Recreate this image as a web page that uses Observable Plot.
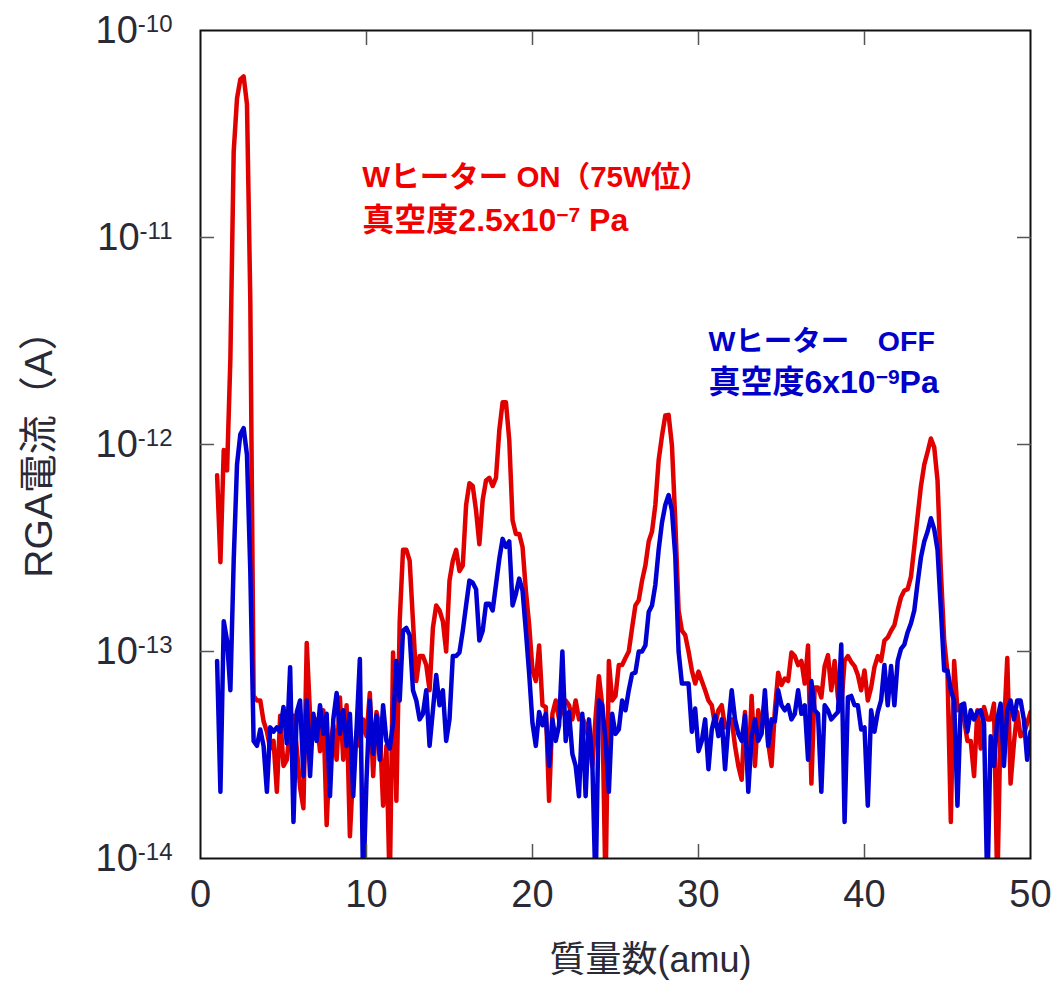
<!DOCTYPE html>
<html><head><meta charset="utf-8">
<script src="https://cdn.jsdelivr.net/npm/d3@7"></script>
<script src="https://cdn.jsdelivr.net/npm/@observablehq/plot@0.6"></script>
<style>html,body{margin:0;padding:0;background:#fff;}</style>
</head><body><div id="chart"></div>
<script>
// mass scan grid (amu)
const massAmu = [
 1.0,1.2,1.4,1.6,1.8,2.0,2.2,2.4,2.6,2.8,
 3.0,3.2,3.4,3.6,3.8,4.0,4.2,4.4,4.6,4.8,
 5.0,5.2,5.4,5.6,5.8,6.0,6.2,6.4,6.6,6.8,
 7.0,7.2,7.4,7.6,7.8,8.0,8.2,8.4,8.6,8.8,
 9.0,9.2,9.4,9.6,9.8,10.0,10.2,10.4,10.6,10.8,
 11.0,11.2,11.4,11.6,11.8,12.0,12.2,12.4,12.6,12.8,
 13.0,13.2,13.4,13.6,13.8,14.0,14.2,14.4,14.6,14.8,
 15.0,15.2,15.4,15.6,15.8,16.0,16.2,16.4,16.6,16.8,
 17.0,17.2,17.4,17.6,17.8,18.0,18.2,18.4,18.6,18.8,
 19.0,19.2,19.4,19.6,19.8,20.0,20.2,20.4,20.6,20.8,
 21.0,21.2,21.4,21.6,21.8,22.0,22.2,22.4,22.6,22.8,
 23.0,23.2,23.4,23.6,23.8,24.0,24.2,24.4,24.6,24.8,
 25.0,25.2,25.4,25.6,25.8,26.0,26.2,26.4,26.6,26.8,
 27.0,27.2,27.4,27.6,27.8,28.0,28.2,28.4,28.6,28.8,
 29.0,29.2,29.4,29.6,29.8,30.0,30.2,30.4,30.6,30.8,
 31.0,31.2,31.4,31.6,31.8,32.0,32.2,32.4,32.6,32.8,
 33.0,33.2,33.4,33.6,33.8,34.0,34.2,34.4,34.6,34.8,
 35.0,35.2,35.4,35.6,35.8,36.0,36.2,36.4,36.6,36.8,
 37.0,37.2,37.4,37.6,37.8,38.0,38.2,38.4,38.6,38.8,
 39.0,39.2,39.4,39.6,39.8,40.0,40.2,40.4,40.6,40.8,
 41.0,41.2,41.4,41.6,41.8,42.0,42.2,42.4,42.6,42.8,
 43.0,43.2,43.4,43.6,43.8,44.0,44.2,44.4,44.6,44.8,
 45.0,45.2,45.4,45.6,45.8,46.0,46.2,46.4,46.6,46.8,
 47.0,47.2,47.4,47.6,47.8,48.0,48.2,48.4,48.6,48.8,
 49.0,49.2,49.4,49.6,49.8,50.0
];
// RGA current (A), W heater ON (red)
const currentHeaterOn = [
 7.1e-13,2.7e-13,9.4e-13,7.5e-13,2.6e-12,2.6e-11,4.7e-11,5.8e-11,6.0e-11,4.4e-11,
 5.0e-12,6.1e-14,5.8e-14,5.8e-14,4.6e-14,4.1e-14,3.4e-14,3.7e-14,2.1e-14,4.9e-14,
 2.8e-14,3.0e-14,4.3e-14,4.9e-14,3.4e-14,2.2e-14,1.75e-14,1.1e-13,4.9e-14,4.0e-14,
 4.7e-14,3.3e-14,5.2e-14,1.45e-14,3.5e-14,4.4e-14,3.0e-14,6.0e-14,3.0e-14,5.5e-14,
 1.28e-14,2.7e-14,4.1e-14,3.5e-14,4.7e-14,3.9e-14,6.3e-14,2.5e-14,5.1e-14,4.3e-14,
 1.8e-14,3.5e-14,7e-15,9.9e-14,1.9e-14,1.4e-13,3.1e-13,3.1e-13,2.75e-13,1.4e-13,
 7.2e-14,9.5e-14,9.5e-14,8.6e-14,6.5e-14,1.3e-13,1.67e-13,1.58e-13,1.4e-13,1.0e-13,
 2.2e-13,2.75e-13,3.1e-13,2.45e-13,2.6e-13,5.1e-13,6.5e-13,6.3e-13,4.8e-13,3.3e-13,
 5.4e-13,6.7e-13,6.9e-13,6.3e-13,6.9e-13,1.17e-12,1.6e-12,1.6e-12,1.05e-12,4.3e-13,
 3.7e-13,3.7e-13,3.2e-13,1.97e-13,1.34e-13,8.1e-14,7.2e-14,1.07e-13,5.5e-14,5.4e-14,
 1.9e-14,5.0e-14,5.8e-14,4.7e-14,5.3e-14,5.8e-14,5.5e-14,4.7e-14,5.8e-14,4.7e-14,
 4.8e-14,4.4e-14,3.7e-14,2.8e-14,4.8e-14,7.6e-14,5.5e-14,7e-15,9.0e-14,5.8e-14,
 6.1e-14,8.6e-14,8.6e-14,9.3e-14,1.0e-13,1.3e-13,1.67e-13,1.77e-13,2.2e-13,2.6e-13,
 3.4e-13,3.8e-13,5.1e-13,8.4e-13,1.1e-12,1.38e-12,1.39e-12,9.9e-13,4.3e-13,1.58e-13,
 1.26e-13,1.2e-13,1.0e-13,8.1e-14,7.0e-14,8.0e-14,7.2e-14,6.5e-14,5.8e-14,5.5e-14,
 4.4e-14,5.2e-14,5.5e-14,4.3e-14,4.5e-14,4.7e-14,3.5e-14,2.8e-14,2.4e-14,5.1e-14,
 2.5e-14,6.1e-14,2.8e-14,5.2e-14,4.1e-14,6.0e-14,3.6e-14,2.8e-14,5.2e-14,7.9e-14,
 6.9e-14,7.4e-14,7.2e-14,9.9e-14,9.5e-14,8.6e-14,9.0e-14,7.0e-14,1.07e-13,2.3e-14,
 6.7e-14,6.7e-14,6.0e-14,8.5e-14,9.6e-14,6.5e-14,9.0e-14,6.0e-14,5.4e-14,9.0e-14,
 9.5e-14,8.9e-14,8.5e-14,7.7e-14,6.5e-14,8.1e-14,5.8e-14,6.7e-14,8.4e-14,9.5e-14,
 9.0e-14,1.13e-13,1.17e-13,1.26e-13,1.34e-13,1.58e-13,1.83e-13,1.97e-13,2.0e-13,2.3e-13,
 3.2e-13,4.5e-13,6.3e-13,8.0e-13,9.2e-13,1.07e-12,9.7e-13,6.7e-13,2.45e-13,1.13e-13,
 7.9e-14,1.5e-14,9.0e-14,5.2e-14,5.4e-14,4.7e-14,3.7e-14,3.7e-14,2.5e-14,5.2e-14,
 3.4e-14,5.4e-14,4.7e-14,4.7e-14,5.6e-14,7e-15,4.7e-14,4.2e-14,9.3e-14,2.3e-14,
 3.6e-14,5.1e-14,3.9e-14,4.0e-14,4.5e-14,5.1e-14
];
// RGA current (A), W heater OFF (blue)
const currentHeaterOff = [
 9.0e-14,2.1e-14,1.4e-13,1.13e-13,6.5e-14,2.75e-13,8.0e-13,1.12e-12,1.2e-12,8.9e-13,
 2.45e-13,3.7e-14,3.5e-14,4.2e-14,3.5e-14,2.1e-14,4.3e-14,4.1e-14,4.3e-14,4.1e-14,
 5.4e-14,3.6e-14,8.4e-14,1.5e-14,5.1e-14,5.8e-14,2.5e-14,5.8e-14,2.5e-14,5.0e-14,
 3.7e-14,5.5e-14,4.0e-14,5.0e-14,2.0e-14,4.7e-14,6.3e-14,4.0e-14,5.2e-14,3.5e-14,
 5.0e-14,2.0e-14,4.2e-14,9.2e-14,7e-15,2.4e-14,5.8e-14,3.2e-14,4.9e-14,3.0e-14,
 5.5e-14,3.7e-14,3.4e-14,4.5e-14,9.0e-14,5.8e-14,1.26e-13,1.3e-13,1.2e-13,6.5e-14,
 5.8e-14,4.7e-14,5.0e-14,6.5e-14,3.5e-14,5.2e-14,7.7e-14,5.5e-14,6.5e-14,3.7e-14,
 4.7e-14,9.5e-14,9.5e-14,9.9e-14,1.26e-13,1.67e-13,2.2e-13,2.15e-13,2.0e-13,1.13e-13,
 1.26e-13,1.7e-13,1.7e-13,1.58e-13,2.1e-13,2.8e-13,3.5e-13,3.2e-13,3.4e-13,1.67e-13,
 1.9e-13,2.25e-13,1.97e-13,1.26e-13,7.8e-14,4.5e-14,3.5e-14,5.1e-14,4.4e-14,5.0e-14,
 2.8e-14,4.7e-14,3.7e-14,4.4e-14,1.0e-13,3.7e-14,5.1e-14,3.2e-14,2.8e-14,2.0e-14,
 5.0e-14,2.0e-14,4.7e-14,3.0e-14,7e-15,5.8e-14,5.5e-14,3.7e-14,2.1e-14,5.0e-14,
 4.0e-14,4.2e-14,5.8e-14,5.2e-14,6.5e-14,7.8e-14,7.9e-14,1.0e-13,1.0e-13,1.07e-13,
 1.55e-13,1.67e-13,2.1e-13,3.1e-13,4.2e-13,5.1e-13,5.7e-13,4.8e-13,2.9e-13,1.0e-13,
 7.0e-14,7.0e-14,7.0e-14,4.1e-14,5.3e-14,3.3e-14,3.7e-14,4.7e-14,2.7e-14,4.2e-14,
 4.9e-14,3.9e-14,4.7e-14,2.7e-14,4.4e-14,6.5e-14,4.7e-14,4.0e-14,3.7e-14,4.9e-14,
 2.1e-14,3.9e-14,4.7e-14,3.7e-14,4.0e-14,6.5e-14,3.5e-14,4.7e-14,4.6e-14,6.5e-14,
 5.5e-14,5.2e-14,5.5e-14,4.7e-14,5.0e-14,6.5e-14,5.0e-14,5.5e-14,3.0e-14,7.2e-14,
 5.2e-14,5.0e-14,2.1e-14,5.5e-14,5.2e-14,4.7e-14,4.9e-14,5.1e-14,1.08e-13,1.5e-14,
 6.0e-14,6.1e-14,5.5e-14,5.5e-14,4.2e-14,4.3e-14,1.8e-14,5.2e-14,4.1e-14,5.1e-14,
 5.8e-14,8.6e-14,5.5e-14,8.5e-14,5.5e-14,9.0e-14,1.03e-13,1.08e-13,1.24e-13,1.37e-13,
 1.58e-13,2.15e-13,2.85e-13,3.4e-13,3.8e-13,4.4e-13,3.9e-13,3.1e-13,1.6e-13,8.1e-14,
 8.1e-14,6.5e-14,5.8e-14,1.8e-14,5.5e-14,5.6e-14,4.1e-14,5.2e-14,4.7e-14,5.1e-14,
 5.2e-14,4.5e-14,7e-15,3.9e-14,2.8e-14,4.7e-14,5.6e-14,2.8e-14,5.2e-14,5.8e-14,
 4.7e-14,5.8e-14,5.8e-14,4.7e-14,3.0e-14,4.1e-14
];
const xTicks = [0, 10, 20, 30, 40, 50];
const xTickLabels = ["0", "10", "20", "30", "40", "50"];
const yTicks = [1e-14, 1e-13, 1e-12, 1e-11, 1e-10];
const yTickLabels = ["10^-14", "10^-13", "10^-12", "10^-11", "10^-10"];
const xAxisLabel = "質量数(amu)";
const yAxisLabel = "RGA電流（A）";
const noteHeaterOn = ["Wヒーター ON（75W位）", "真空度2.5x10^−7 Pa"];
const noteHeaterOff = ["Wヒーター\u3000OFF", "真空度6x10^−9Pa"];

const rows = massAmu.map((m, i) => ({mass: m, on: currentHeaterOn[i], off: currentHeaterOff[i]}));
const FONT = '"Liberation Sans", Arial, "Noto Sans CJK JP", sans-serif';
const INK = "#2a2a36";
const TICK = "#555";
const RED = "#e00000", BLUE = "#0000d2";

const plot = Plot.plot({
  width: 1052, height: 982,
  marginLeft: 200, marginRight: 22, marginTop: 30, marginBottom: 124,
  style: {fontFamily: FONT, background: "#fff", color: INK, overflow: "visible"},
  x: {domain: [0, 50]},
  y: {type: "log", domain: [1e-14, 1e-10]},
  marks: [
    Plot.line(rows, {x: "mass", y: "on", stroke: RED, strokeWidth: 4.5, clip: true}),
    Plot.line(rows, {x: "mass", y: "off", stroke: BLUE, strokeWidth: 4.5, clip: true}),
    Plot.frame({stroke: "#111", strokeWidth: 2}),
    // tick labels
    Plot.axisX({ticks: xTicks, tickFormat: d => xTickLabels[xTicks.indexOf(d)], tickSize: 0, tickPadding: 22, fontSize: 38, fill: INK, label: null}),
    Plot.axisY({ticks: yTicks, tickFormat: d => yTickLabels[yTicks.indexOf(d)], tickSize: 0, tickPadding: 28, fontSize: 38, fill: INK, label: null}),
    // inward ticks on all four sides
    Plot.axisX({ticks: xTicks.slice(1, -1), anchor: "bottom", tickSize: 14, dy: -14, fill: "none", stroke: TICK, strokeWidth: 1.5, label: null}),
    Plot.axisX({ticks: xTicks.slice(1, -1), anchor: "top", tickSize: 14, dy: 14, fill: "none", stroke: TICK, strokeWidth: 1.5, label: null}),
    Plot.axisY({ticks: yTicks.slice(1, -1), anchor: "left", tickSize: 14, dx: 14, fill: "none", stroke: TICK, strokeWidth: 1.5, label: null}),
    Plot.axisY({ticks: yTicks.slice(1, -1), anchor: "right", tickSize: 14, dx: -14, fill: "none", stroke: TICK, strokeWidth: 1.5, label: null}),
    // axis titles
    Plot.text([xAxisLabel], {text: d => d, frameAnchor: "bottom", textAnchor: "middle", lineAnchor: "middle", dx: 35, dy: 102, fontSize: 36, fill: INK}),
    Plot.text([yAxisLabel], {text: d => d, frameAnchor: "left", textAnchor: "middle", lineAnchor: "middle", dx: -161, dy: 0, rotate: -90, fontSize: 39, fill: INK}),
    // annotations
    Plot.text([noteHeaterOn[0]], {text: d => d, x: 9.75, y: 1.75e-11, textAnchor: "start", lineAnchor: "bottom", fontSize: 29.5, fontWeight: "bold", fill: "#f00000"}),
    Plot.text([noteHeaterOn[1]], {text: d => d, x: 9.75, y: 1.08e-11, textAnchor: "start", lineAnchor: "bottom", fontSize: 32, fontWeight: "bold", fill: "#f00000"}),
    Plot.text([noteHeaterOff[0]], {text: d => d, x: 30.6, y: 2.84e-12, textAnchor: "start", lineAnchor: "bottom", fontSize: 28.5, fontWeight: "bold", fill: "#0000c8"}),
    Plot.text([noteHeaterOff[1]], {text: d => d, x: 30.6, y: 1.78e-12, textAnchor: "start", lineAnchor: "bottom", fontSize: 32, fontWeight: "bold", fill: "#0000c8"})
  ]
});

// turn "a^b rest" strings into real superscripts
const NS = "http://www.w3.org/2000/svg";
function supify(el, supSize, rise) {
  const s = el.textContent;
  const k = s.indexOf("^");
  if (k < 0) return;
  const m = s.slice(k + 1).match(/^(\S?\d+)(.*)$/);
  if (!m) return;
  el.textContent = "";
  const a = document.createElementNS(NS, "tspan"); a.textContent = s.slice(0, k); el.appendChild(a);
  const b = document.createElementNS(NS, "tspan"); b.textContent = m[1];
  b.setAttribute("font-size", supSize); b.setAttribute("dy", -rise); el.appendChild(b);
  if (m[2]) {
    const c = document.createElementNS(NS, "tspan"); c.textContent = m[2];
    c.setAttribute("dy", rise); el.appendChild(c);
  }
}
plot.querySelectorAll('[aria-label="y-axis tick label"] text').forEach(t => supify(t, 24, 11));
plot.querySelectorAll('text').forEach(t => { if (t.textContent.includes("^")) supify(t, 21, 9); });

document.getElementById("chart").appendChild(plot);
</script>
</body></html>
